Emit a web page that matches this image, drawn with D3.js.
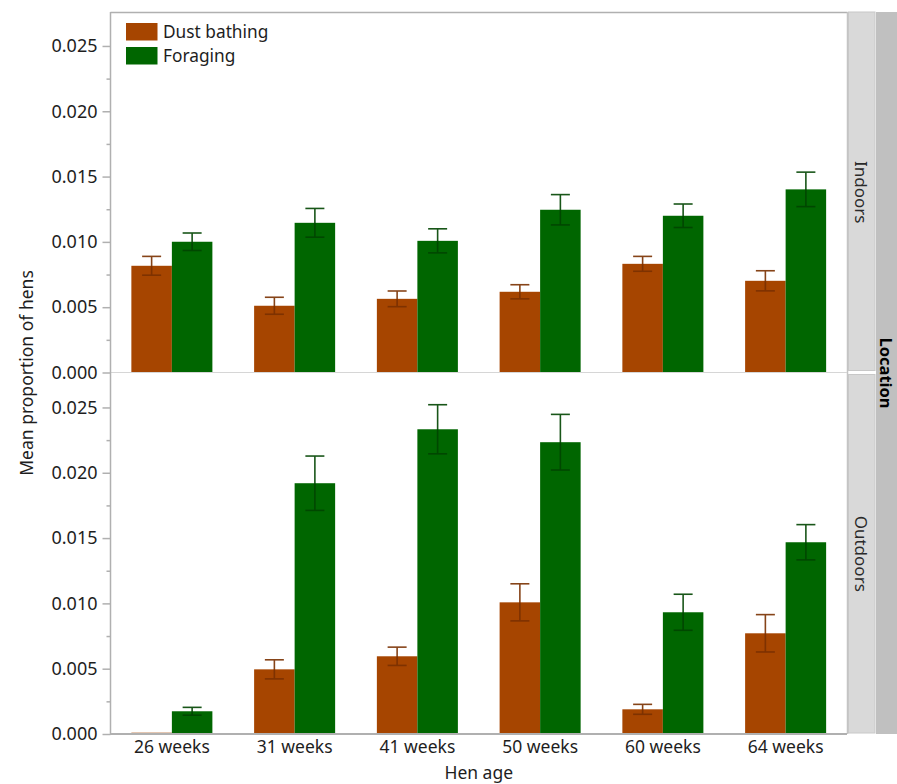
<!DOCTYPE html>
<html>
<head>
<meta charset="utf-8">
<script src="https://cdn.jsdelivr.net/npm/d3@7/dist/d3.min.js"></script>
<style>
  html, body { margin: 0; padding: 0; background: #ffffff; }
  svg { display: block; font-family: "Noto Sans", "Open Sans", sans-serif; }
</style>
</head>
<body>
<svg id="chart" width="897" height="784"></svg>
<script>
// Hen age groups (x categories) and behaviours (series)
const ages = ["26 weeks", "31 weeks", "41 weeks", "50 weeks", "60 weeks", "64 weeks"];
const behaviours = ["Dust bathing", "Foraging"];
const locations = ["Indoors", "Outdoors"];

// Mean proportion of hens, with half-width of the error bars
const indoorDust       = [0.00817, 0.00511, 0.00564, 0.00618, 0.00832, 0.00702];
const indoorDustErr    = [0.00072, 0.00065, 0.00060, 0.00054, 0.00057, 0.00077];
const indoorForage     = [0.01001, 0.01146, 0.01008, 0.01246, 0.01200, 0.01402];
const indoorForageErr  = [0.00067, 0.00110, 0.00092, 0.00116, 0.00090, 0.00132];
const outdoorDust      = [0.00010, 0.00495, 0.00595, 0.01008, 0.00189, 0.00771];
const outdoorDustErr   = [0.00000, 0.00073, 0.00070, 0.00142, 0.00038, 0.00143];
const outdoorForage    = [0.00174, 0.01920, 0.02333, 0.02234, 0.00932, 0.01468];
const outdoorForageErr = [0.00030, 0.00208, 0.00188, 0.00213, 0.00138, 0.00135];

// Axis tick values
const majorTicks = [0, 0.005, 0.010, 0.015, 0.020, 0.025];
const minorTicks = [0.0025, 0.0075, 0.0125, 0.0175, 0.0225];
const yMax = 0.0276;

const colors = { "Dust bathing": "#a64500", "Foraging": "#006600" };
const errColors = { "Dust bathing": "#7a3000", "Foraging": "#004400" };

const svg = d3.select("#chart");
const plotL = 110.5, plotR = 847, plotT = 12;
const panelH = 360.5, panelGap = 1;
const axisColor = "#b0b0b0";
const textColor = "#1e1e1e";
const fontFamily = "'Noto Sans', 'Open Sans', sans-serif";

const panels = locations.map((loc, i) => {
  const top = plotT + i * (panelH + panelGap);
  return {
    name: loc,
    top: top,
    bottom: top + panelH,
    series: {
      "Dust bathing": i === 0 ? indoorDust : outdoorDust,
      "Foraging": i === 0 ? indoorForage : outdoorForage
    },
    errors: {
      "Dust bathing": i === 0 ? indoorDustErr : outdoorDustErr,
      "Foraging": i === 0 ? indoorForageErr : outdoorForageErr
    }
  };
});

const x0 = d3.scaleBand().domain(ages).range([plotL, plotR])
  .paddingInner(0.34).paddingOuter(0.17);
const x1 = d3.scaleBand().domain(behaviours).range([0, x0.bandwidth()]);

// Top frame and right frame of the plot area
svg.append("line").attr("x1", plotL).attr("x2", plotR + 0.5)
  .attr("y1", plotT + 0.5).attr("y2", plotT + 0.5)
  .attr("stroke", axisColor).attr("stroke-width", 1.5);
svg.append("line").attr("x1", plotR + 0.5).attr("x2", plotR + 0.5)
  .attr("y1", plotT).attr("y2", panels[1].bottom)
  .attr("stroke", "#c4c4c4").attr("stroke-width", 1.5);

panels.forEach((p, pi) => {
  const y = d3.scaleLinear().domain([0, yMax]).range([p.bottom, p.top]);
  const g = svg.append("g");

  // Bars
  behaviours.forEach((b) => {
    const vals = p.series[b];
    const errs = p.errors[b];
    const rows = ages.map((a, k) => ({ age: a, v: vals[k], e: errs[k] }));
    g.selectAll(null)
      .data(rows)
      .join("rect")
      .attr("x", d => x0(d.age) + x1(b))
      .attr("width", x1.bandwidth())
      .attr("y", d => y(d.v))
      .attr("height", d => y(0) - y(d.v))
      .attr("fill", colors[b]);

    // Error bars
    const eb = g.selectAll(null)
      .data(rows.filter(d => d.e > 0))
      .join("g")
      .attr("stroke", errColors[b])
      .attr("stroke-width", 1.6)
      .attr("opacity", 0.9);
    const cx = d => x0(d.age) + x1(b) + x1.bandwidth() / 2;
    eb.append("line")
      .attr("x1", cx).attr("x2", cx)
      .attr("y1", d => y(d.v + d.e)).attr("y2", d => y(d.v - d.e));
    eb.append("line")
      .attr("x1", d => cx(d) - 9.5).attr("x2", d => cx(d) + 9.5)
      .attr("y1", d => y(d.v + d.e)).attr("y2", d => y(d.v + d.e));
    eb.append("line")
      .attr("x1", d => cx(d) - 9.5).attr("x2", d => cx(d) + 9.5)
      .attr("y1", d => y(d.v - d.e)).attr("y2", d => y(d.v - d.e));
  });

  // Baseline of each panel
  svg.append("line").attr("x1", plotL).attr("x2", plotR)
    .attr("y1", p.bottom).attr("y2", p.bottom)
    .attr("stroke", pi === 0 ? "#d6d6d6" : axisColor)
    .attr("stroke-width", pi === 0 ? 1.2 : 2);

  // Y axis: major ticks with labels
  const axMajor = svg.append("g")
    .attr("transform", `translate(${plotL},0)`)
    .call(d3.axisLeft(y).tickValues(majorTicks).tickFormat(d3.format(".3f"))
      .tickSize(8).tickPadding(5));
  axMajor.select(".domain").remove();
  axMajor.selectAll(".tick line").attr("stroke", axisColor).attr("stroke-width", 1.5);
  axMajor.selectAll(".tick text")
    .attr("fill", textColor).style("font-size", "18px")
    .style("font-family", fontFamily);

  // Y axis: minor ticks
  const axMinor = svg.append("g")
    .attr("transform", `translate(${plotL},0)`)
    .call(d3.axisLeft(y).tickValues(minorTicks).tickFormat("").tickSize(4));
  axMinor.select(".domain").remove();
  axMinor.selectAll(".tick line").attr("stroke", axisColor).attr("stroke-width", 1.5);

  // Panel strip on the right
  svg.append("rect")
    .attr("x", plotR + 1.5).attr("y", p.top + (pi === 0 ? 0 : 1))
    .attr("width", 26.5).attr("height", panelH - 2)
    .attr("fill", "#d9d9d9").attr("stroke", "#c8c8c8").attr("stroke-width", 1);
  svg.append("text")
    .attr("transform", `translate(${plotR + 8}, ${(p.top + p.bottom) / 2}) rotate(90)`)
    .attr("text-anchor", "middle")
    .attr("fill", "#2a2a2a")
    .style("font-size", "17px")
    .text(p.name);
});

// Left axis line spanning both panels
svg.append("line").attr("x1", plotL).attr("x2", plotL)
  .attr("y1", plotT).attr("y2", panels[1].bottom + 1)
  .attr("stroke", axisColor).attr("stroke-width", 1.5);

// Outer strip for the Location facet
svg.append("rect")
  .attr("x", 876).attr("y", plotT).attr("width", 21)
  .attr("height", panels[1].bottom - plotT)
  .attr("fill", "#c0c0c0");
svg.append("text")
  .attr("transform", `translate(879.5, ${(plotT + panels[1].bottom) / 2}) rotate(90)`)
  .attr("text-anchor", "middle")
  .attr("fill", "#000")
  .style("font-size", "16.5px")
  .style("font-weight", "bold")
  .text("Location");

// X axis labels
const xAxis = svg.append("g")
  .attr("transform", `translate(0,${panels[1].bottom})`)
  .call(d3.axisBottom(x0).tickSize(0).tickPadding(7));
xAxis.select(".domain").remove();
xAxis.selectAll(".tick text")
  .attr("fill", textColor).style("font-size", "17.5px")
  .style("font-family", fontFamily);

// Axis titles
svg.append("text")
  .attr("x", (plotL + plotR) / 2).attr("y", 779)
  .attr("text-anchor", "middle").attr("fill", textColor)
  .style("font-size", "17.5px").text("Hen age");
svg.append("text")
  .attr("transform", `translate(33, ${(plotT + panels[1].bottom) / 2}) rotate(-90)`)
  .attr("text-anchor", "middle").attr("fill", textColor)
  .style("font-size", "17.5px").text("Mean proportion of hens");

// Legend
const legend = svg.append("g").attr("transform", "translate(126,23)");
behaviours.forEach((b, i) => {
  legend.append("rect")
    .attr("x", 0).attr("y", i * 24)
    .attr("width", 31.5).attr("height", 17.5)
    .attr("fill", colors[b]);
  legend.append("text")
    .attr("x", 37).attr("y", i * 24 + 15)
    .attr("fill", textColor)
    .style("font-size", "17.3px")
    .text(b);
});
</script>
</body>
</html>
